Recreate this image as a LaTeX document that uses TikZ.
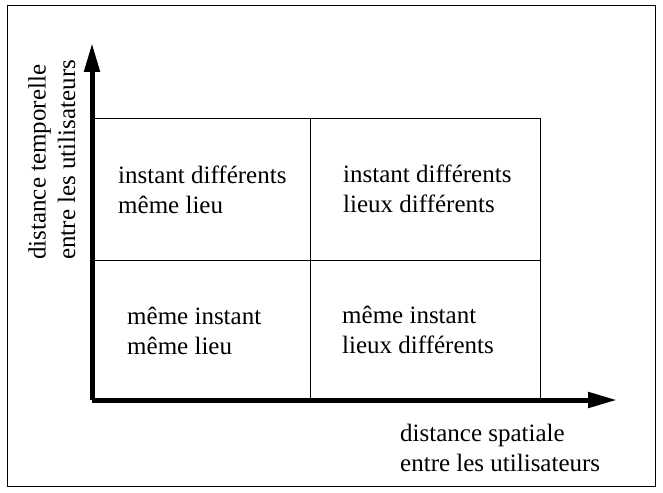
\documentclass[tikz,border=0pt]{standalone}
\usepackage{fontspec}
\setmainfont{Liberation Serif}
\usetikzlibrary{arrows.meta}
\tikzset{
  frameline/.style={line width=1pt, draw=black},
  gridline/.style={line width=1pt, draw=black},
  axisline/.style={line width=5pt, draw=black, -{Triangle[length=29pt,width=15pt]}},
  celltext/.style={anchor=base west, inner sep=0pt, align=left,
    font=\fontsize{25}{29.5}\selectfont},
}
\begin{document}
\begin{tikzpicture}[x=1pt,y=-1pt]
\useasboundingbox (0,0) rectangle (663,492);
\draw[frameline] (7,6) rectangle (655,486);
% grid
\coordinate (TL) at (92,118);
\coordinate (TR) at (540,118);
\coordinate (BR) at (540,400);
\coordinate (MT) at (310,118);
\coordinate (MB) at (310,400);
\coordinate (ML) at (92,260);
\coordinate (MR) at (540,260);
\draw[gridline] (TL) -- (TR) -- (BR);
\draw[gridline] (MT) -- (MB);
\draw[gridline] (ML) -- (MR);
% axes
\coordinate (O) at (92,400);
\coordinate (Ytip) at (92,43);
\coordinate (Xtip) at (617,400);
\draw[axisline] (O) -- (Ytip);
\draw[axisline] (O) -- (Xtip);
% cell texts (base anchor = baseline of last line)
\node[celltext] (c11) at (118,213) {instant différents\\même lieu};
\node[celltext] (c12) at (343,212) {instant différents\\lieux différents};
\node[celltext] (c21) at (127,354) {même instant\\même lieu};
\node[celltext] (c22) at (342,353) {même instant\\lieux différents};
% axis labels
\node[celltext] (xl) at (400,471) {distance spatiale\\entre les utilisateurs};
\node[celltext, rotate=90] (yl) at (75,260) {distance temporelle\\entre les utilisateurs};
\end{tikzpicture}
\end{document}
